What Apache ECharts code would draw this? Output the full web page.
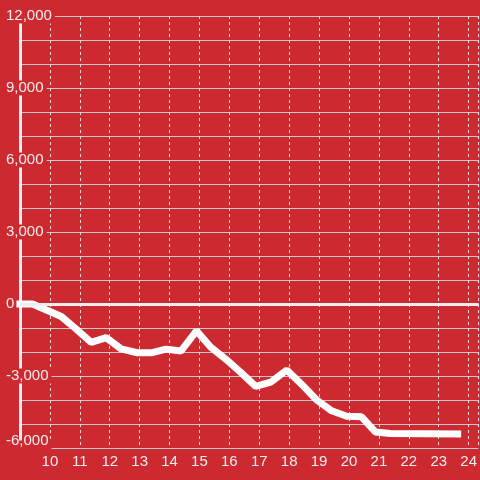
<!DOCTYPE html>
<html>
<head>
<meta charset="utf-8">
<script src="https://cdn.jsdelivr.net/npm/echarts@6/dist/echarts.min.js"></script>
<style>
html,body{margin:0;padding:0;background:#cc2a30;}
#c{width:480px;height:480px;}
</style>
</head>
<body>
<div id="c"></div>
<script>
// Data
var hours = [8.88, 9.42, 10.38, 10.88, 11.38, 11.88, 12.38, 12.92, 13.42, 13.88, 14.38, 14.9, 15.38, 15.88, 16.38, 16.88, 17.38, 17.92, 18.42, 18.92, 19.42, 19.92, 20.42, 20.88, 21.38, 23.75];
var values = [0, 0, -520, -1050, -1600, -1400, -1870, -2030, -2030, -1880, -1960, -1120, -1800, -2300, -2850, -3430, -3260, -2750, -3350, -4000, -4450, -4680, -4700, -5330, -5400, -5420];
var xTicks = [10, 11, 12, 13, 14, 15, 16, 17, 18, 19, 20, 21, 22, 23, 24];
var yTicks = [-6000, -3000, 0, 3000, 6000, 9000, 12000];

var bg = '#cc2a30';
var chart = echarts.init(document.getElementById('c'));
var pts = hours.map(function (h, i) { return [h, values[i]]; });

chart.setOption({
  backgroundColor: bg,
  animation: false,
  grid: { left: 20, right: 0, top: 16, bottom: 32 },
  xAxis: {
    type: 'value',
    min: 9,
    max: 24.33,
    interval: 1,
    axisLine: { show: false },
    axisTick: { show: false },
    axisLabel: {
      showMinLabel: false,
      showMaxLabel: false,
      color: '#eeeeee',
      fontFamily: 'Liberation Sans',
      fontSize: 15,
      margin: 6,
      formatter: function (v) { return xTicks.indexOf(v) >= 0 ? String(v) : ''; }
    },
    splitLine: { show: true, lineStyle: { color: '#dddddd', width: 1, type: [3, 3] } }
  },
  yAxis: {
    type: 'value',
    min: yTicks[0],
    max: yTicks[yTicks.length - 1],
    interval: 3000,
    axisLine: { show: true, lineStyle: { color: '#eeeeee', width: 3 } },
    axisTick: { show: false },
    axisLabel: {
      color: '#eeeeee',
      fontFamily: 'Liberation Sans',
      fontSize: 15,
      align: 'left',
      margin: 15,
      lineHeight: 15,
      backgroundColor: bg,
      padding: [0, 3, 0, 1],
      formatter: function (v) {
        var s = v.toLocaleString('en-US');
        return v === yTicks[0] ? '{lo|' + s + '}' : s;
      },
      rich: {
        lo: {
          color: '#eeeeee',
          fontFamily: 'Liberation Sans',
          fontSize: 15,
          lineHeight: 15,
          padding: [0, 0, 15, 0]
        }
      }
    },
    splitLine: { show: true, lineStyle: { color: '#c8c8c8', width: 1 } },
    minorTick: { show: false, splitNumber: 3 },
    minorSplitLine: { show: true, lineStyle: { color: '#c8c8c8', width: 1 } }
  },
  series: [{
    type: 'line',
    data: pts,
    clip: false,
    showSymbol: false,
    symbol: 'none',
    lineStyle: { color: '#ffffff', width: 7 },
    markLine: {
      silent: true,
      symbol: 'none',
      label: { show: false },
      lineStyle: { color: '#eeeeee', width: 3, type: 'solid' },
      data: [{ yAxis: 0 }]
    }
  }]
});
</script>
</body>
</html>
